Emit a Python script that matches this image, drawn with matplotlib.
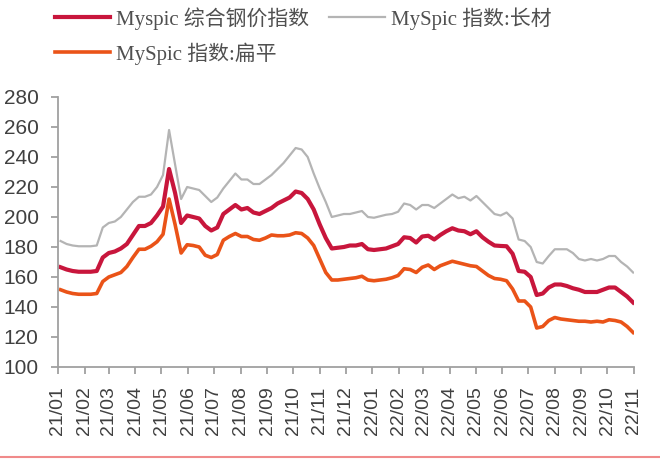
import matplotlib
matplotlib.use('Agg')
import matplotlib.pyplot as plt
import matplotlib.dates as mdates
from matplotlib.lines import Line2D
import pandas as pd

# weekly observations, 2021-01-04 .. 2022-10-31
dates = pd.date_range('2021-01-04', periods=96, freq='7D')

# MySpic 综合钢价指数
composite = [166.5, 165, 164, 163.5, 163.5, 163.5, 164, 173, 176, 177,
             179, 182, 188, 194, 194, 196, 201, 207, 232, 216,
             196, 201, 200, 199, 194, 191, 193, 202, 205, 208,
             205, 206, 203, 202, 204, 206, 209, 211, 213, 217,
             216, 212, 205, 195, 186, 179, 179.5, 180, 181, 181,
             182, 178.5, 178, 178.5, 179, 180.5, 182, 186.5, 186, 183,
             187, 187.5, 185, 188, 190.5, 192.5, 191, 190.5, 188.5, 190.5,
             186.5, 183.5, 181, 180.7, 180.5, 175.5, 164, 163.5, 160, 148,
             149, 153, 155, 155, 154, 152.5, 151.5, 150, 150, 150,
             151.5, 153, 153, 150, 147, 143]

# MySpic 指数:长材
long_steel = [184, 182, 181, 180.5, 180.5, 180.5, 181, 193, 196, 197,
              200, 205, 210, 213.5, 213.5, 215, 220, 228, 258, 235,
              212, 220, 219, 218, 214, 210, 213, 219, 224, 229,
              225, 225, 222, 222, 225, 228, 232, 236, 241, 246,
              245, 240, 229, 219, 210, 200, 201, 202, 202, 203,
              204, 200, 199.5, 200.5, 201.5, 202, 203.5, 209, 208, 205,
              208, 208, 206, 209, 212, 215, 212.5, 213.5, 211, 214,
              210, 206, 202, 201, 203, 199, 185, 184, 180, 170,
              169, 174, 178.5, 178.5, 178.5, 176, 172, 171, 172, 171,
              172, 174, 174, 170, 167, 163]

# MySpic 指数:扁平
flat_steel = [151.5, 150, 149, 148.5, 148.5, 148.5, 149, 157, 160, 161.5,
              163, 167, 173, 178.5, 178.5, 180.5, 183.5, 188.5, 212, 195,
              176, 181.5, 181, 180, 174.5, 173, 175, 184.5, 187, 189,
              187, 187, 185, 184.5, 186, 188, 187.5, 187.5, 188, 189.5,
              189, 186, 181, 172, 163, 158, 158, 158.5, 159, 159.5,
              160.5, 158, 157.5, 158, 158.5, 159.5, 161, 165.5, 165, 163,
              166.5, 168, 165, 167.5, 169, 170.5, 169.5, 168.5, 167.5, 167,
              164, 161, 159, 158.5, 157.5, 152, 144, 144, 140, 126,
              127, 131, 133, 132, 131.5, 131, 130.5, 130.5, 130, 130.5,
              130, 131.5, 131, 130, 127, 123]

labels = ['Myspic 综合钢价指数', 'MySpic 指数:长材', 'MySpic 指数:扁平']
colors = ['#C8163C', '#B4B4B4', '#EA5318']

plt.rcParams['font.family'] = ['Liberation Sans', 'Noto Sans CJK SC']

fig = plt.figure(figsize=(6.6, 4.66), dpi=100)
ax = fig.add_axes([58 / 660, 1 - 367 / 466, 576 / 660, 270 / 466])

ax.plot(dates, long_steel, color=colors[1], lw=1.6, solid_joinstyle='round')
ax.plot(dates, composite, color=colors[0], lw=3.0, solid_joinstyle='round')
ax.plot(dates, flat_steel, color=colors[2], lw=2.6, solid_joinstyle='round')

ax.set_ylim(100, 280)
ax.set_yticks(range(100, 281, 20))
ax.set_xlim(pd.Timestamp('2021-01-01'), pd.Timestamp('2022-11-01'))
ax.xaxis.set_major_locator(mdates.MonthLocator())
ax.xaxis.set_major_formatter(mdates.DateFormatter('%y/%m'))
plt.setp(ax.get_xticklabels(), rotation=90)

for side in ['top', 'right']:
    ax.spines[side].set_visible(False)
for side in ['left', 'bottom']:
    ax.spines[side].set_color('#A0A0A0')
    ax.spines[side].set_linewidth(1.3)
ax.tick_params(axis='both', colors='#A0A0A0', length=5, width=1.3,
               labelcolor='#404040', labelsize=14)
ax.tick_params(axis='y', pad=9, labelsize=15)
ax.tick_params(axis='x', pad=9)

# legend on top, two columns
handles = [Line2D([], [], color=colors[0], lw=3.0),
           Line2D([], [], color=colors[2], lw=2.6),
           Line2D([], [], color=colors[1], lw=1.6)]
names = [labels[0], labels[2], labels[1]]
leg = fig.legend(handles, names, loc='upper left', bbox_to_anchor=(55 / 660, 1 - 7 / 466),
                 ncol=2, frameon=False, borderpad=0, borderaxespad=0,
                 handlelength=2.65, handletextpad=0.3,
                 columnspacing=0.95, labelspacing=0.6,
                 prop={'family': ['Liberation Serif', 'Noto Sans CJK SC'], 'size': 15})
for t in leg.get_texts():
    t.set_color('#505050')

# thin rule at the bottom of the picture
fig.add_artist(Line2D([0, 1], [1 - 457 / 466, 1 - 457 / 466],
                      transform=fig.transFigure, color='#F08A8A', lw=1.5))

fig.savefig('out.png', dpi=100, facecolor='white')
